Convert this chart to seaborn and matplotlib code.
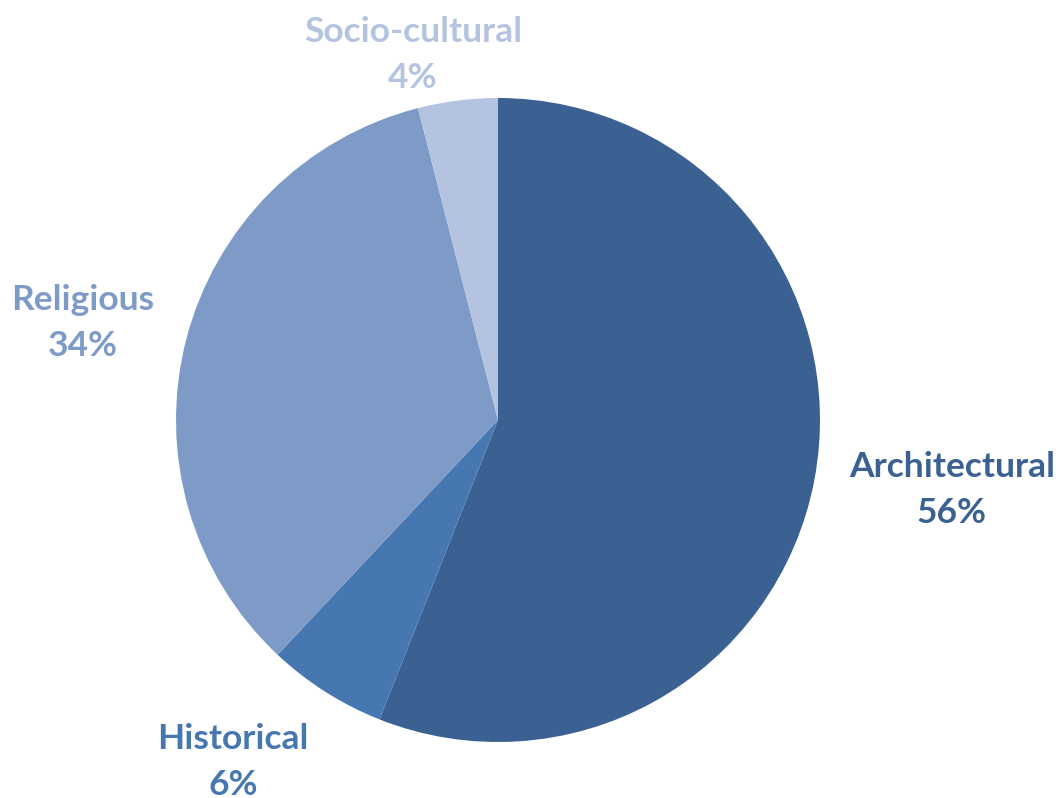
import matplotlib
matplotlib.use("Agg")
import matplotlib.pyplot as plt
import seaborn as sns

# data
categories = ["Architectural", "Historical", "Religious", "Socio-cultural"]
shares = [56, 6, 34, 4]
colors = ["#3a6191", "#4677b0", "#7e9bc8", "#b4c4e0"]
# label anchor points (pixels from top-left of the image)
label_pos = [(952, 490), (233, 762), (83, 323), (413, 55)]

sns.set_theme(style="white")
plt.rcParams["font.family"] = ["Lato", "DejaVu Sans"]

W, H = 1062, 798
fig = plt.figure(figsize=(W / 100, H / 100), dpi=100)
ax = fig.add_axes([0, 0, 1, 1])

center = (498, H - 420)
radius = 322

ax.pie(shares, colors=colors, startangle=90, counterclock=False,
       center=center, radius=radius, frame=True,
       wedgeprops={"linewidth": 0})
ax.set_xlim(0, W)
ax.set_ylim(0, H)
ax.set_aspect("equal")
ax.axis("off")

for name, pct, col, (x, y) in zip(categories, shares, colors, label_pos):
    ax.text(x, H - y, f"{name}\n{pct}%", ha="center", va="center",
            fontsize=25.5, fontweight="bold", color=col, linespacing=1.55)

fig.savefig("out.png", dpi=100)
